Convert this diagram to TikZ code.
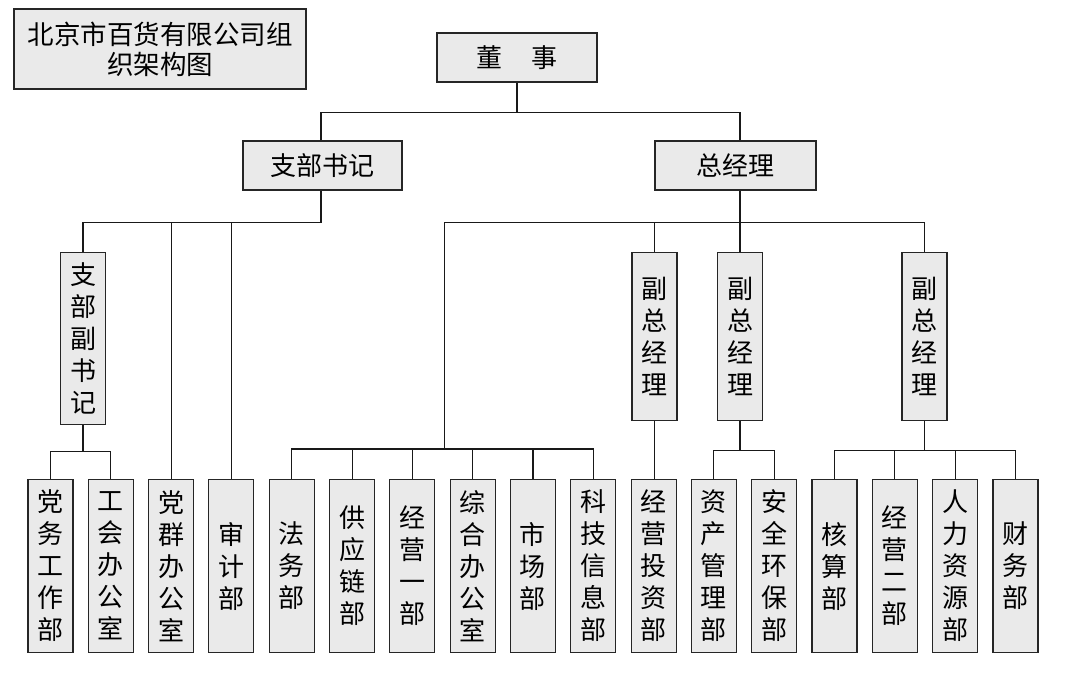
\documentclass[tikz,border=0pt]{standalone}
\usepackage{fontspec}
\newfontfamily\cjk{Noto Sans CJK SC}
\usetikzlibrary{positioning}
\definecolor{boxgray}{HTML}{EAEAEA}
\tikzset{
  box/.style={draw=black!85, fill=boxgray, line width=1.1pt, inner sep=0pt,
    align=center, font=\cjk\fontsize{26}{32}\selectfont},
  hbox/.style={box, minimum width=160pt, minimum height=49pt},
  vbox/.style={box, minimum width=45pt, minimum height=173pt, anchor=north},
  link/.style={line width=1.1pt, black!90},
}

\begin{document}
\begin{tikzpicture}[x=1pt,y=-1pt]
  \useasboundingbox (0,0) rectangle (1071,676);

  \node[box, minimum width=292pt, minimum height=80pt,
    font=\cjk\fontsize{26.5}{30}\selectfont] (title) at (160,49) {北京市百货有限公司组\\织架构图};

  % top levels
  \node[hbox] (ds) at (517,57.5) {董\hspace{1.1em}事};
  \node[hbox, minimum width=159pt] (zbsj) at (322.5,165.5) {支部书记};
  \node[hbox, minimum width=161pt] (zjl) at (735.5,165.5) {总经理};

  % middle level
  \node[vbox, minimum height=172pt] (zbfsj) at (83,252) {支\\部\\副\\书\\记};
  \node[vbox, minimum height=168pt] (fz1) at (654.5,252) {副\\总\\经\\理};
  \node[vbox, minimum height=168pt] (fz2) at (740,252) {副\\总\\经\\理};
  \node[vbox, minimum height=168pt] (fz3) at (924.5,252) {副\\总\\经\\理};

  % departments
  \foreach \i/\name/\txt in {0/dwgzb/{党\\务\\工\\作\\部}, 1/ghbgs/{工\\会\\办\\公\\室},
      2/dqbgs/{党\\群\\办\\公\\室}, 3/sjb/{审\\计\\部}, 4/fwb/{法\\务\\部},
      5/gylb/{供\\应\\链\\部}, 6/jyyb/{经\\营\\一\\部}, 7/zhbgs/{综\\合\\办\\公\\室},
      8/scb/{市\\场\\部}, 9/kjxxb/{科\\技\\信\\息\\部}, 10/jytzb/{经\\营\\投\\资\\部},
      11/zcglb/{资\\产\\管\\理\\部}, 12/aqhbb/{安\\全\\环\\保\\部}, 13/hsb/{核\\算\\部},
      14/jyeb/{经\\营\\二\\部}, 15/rlzyb/{人\\力\\资\\源\\部}, 16/cwb/{财\\务\\部}}
    \node[vbox] (\name) at (50.5+60.31*\i,479) {\txt};

  % connectors
  \draw[link] (ds.south) -- ++(0,30) coordinate (bus0);
  \draw[link] ([xshift=-1.5pt]zbsj.north) |- (bus0) -| ([xshift=4.5pt]zjl.north);

  \draw[link] ([xshift=-1.5pt]zbsj.south) -- ++(0,32) coordinate (bus1);
  \foreach \n in {zbfsj,dqbgs,sjb}
    \draw[link] (bus1) -| (\n.north);
  \draw[link] (zbfsj.south) -- ++(0,26) coordinate (bus2);
  \foreach \n in {dwgzb,ghbgs}
    \draw[link] (bus2) -| (\n.north);

  \draw[link] ([xshift=4.5pt]zjl.south) -- ++(0,32) coordinate (bus3) -- (fz2.north);
  \draw[link] (bus3) -| (fz1.north);
  \draw[link] (bus3) -| (fz3.north);
  \coordinate (bus4) at (444.5,449);
  \draw[link] (bus3) -| (bus4);
  \foreach \n in {fwb,gylb,jyyb,zhbgs,scb,kjxxb}
    \draw[link] (bus4) -| (\n.north);
  \draw[link] (fz1.south) -- (fz1.south |- jytzb.north);
  \draw[link] (fz2.south) -- ++(0,29) coordinate (bus5);
  \foreach \n in {zcglb,aqhbb}
    \draw[link] (bus5) -| (\n.north);
  \draw[link] (fz3.south) -- ++(0,29) coordinate (bus6);
  \foreach \n in {hsb,jyeb,rlzyb,cwb}
    \draw[link] (bus6) -| (\n.north);
\end{tikzpicture}
\end{document}
